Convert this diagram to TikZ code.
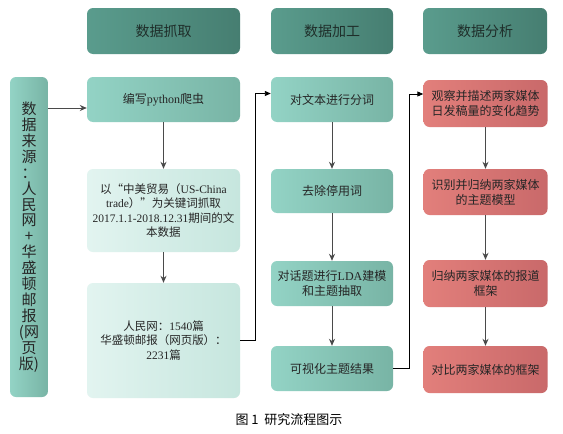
\documentclass[tikz,border=0pt]{standalone}
\usepackage{fontspec}
\setmainfont{Liberation Serif}
\newfontfamily\cjk{Noto Sans CJK SC}
\usetikzlibrary{arrows.meta}
\definecolor{hdA}{HTML}{5A9C8D}
\definecolor{hdB}{HTML}{467E71}
\definecolor{gA}{HTML}{93D3C5}
\definecolor{gB}{HTML}{78B4A5}
\definecolor{lA}{HTML}{E2F4F0}
\definecolor{lB}{HTML}{C6E6DE}
\definecolor{rA}{HTML}{E27F7B}
\definecolor{rB}{HTML}{C9696A}
\definecolor{txt}{HTML}{262626}
\definecolor{hdtxt}{HTML}{1F2E2A}
\definecolor{arr}{HTML}{4A4A4A}
\begin{document}
\begin{tikzpicture}[x=1pt,y=-1pt,
  base/.style={rounded corners=6pt, inner sep=0pt, align=center, text=txt,
    font=\cjk\fontsize{12}{15}\selectfont, shading angle=-45},
  hdbox/.style={base, left color=hdA, right color=hdB, text=hdtxt, font=\cjk\fontsize{14}{17}\selectfont},
  gbox/.style={base, left color=gA, right color=gB},
  lbox/.style={base, left color=lA, right color=lB},
  rbox/.style={base, left color=rA, right color=rB},
  flow/.style={draw=arr, line width=1pt, -{Stealth[length=7pt,width=6pt]}},
  link/.style={draw=black, line width=0.9pt, -{Triangle[length=6pt,width=5pt]}}
]
\useasboundingbox (0,0) rectangle (563,434);
\fill[white] (0,0) rectangle (563,434);

% headers
\node[hdbox, minimum width=153pt, minimum height=46pt] (h1) at (163.5,31) {数据抓取};
\node[hdbox, minimum width=122pt, minimum height=46pt] (h2) at (332,31) {数据加工};
\node[hdbox, minimum width=124pt, minimum height=46pt] (h3) at (485,31) {数据分析};

% source
\node[gbox, minimum width=38pt, minimum height=320pt, font=\cjk\fontsize{15}{15.9}\selectfont] (src) at (29,237)
  {数\\据\\来\\源\\：\\人\\民\\网\\+\\华\\盛\\顿\\邮\\报\\(网\\页\\版)};

% column 1
\node[gbox, minimum width=153pt, minimum height=45pt] (g1) at (163.5,99.5)
  {编写\textrm{python}爬虫};
\node[lbox, minimum width=153pt, minimum height=83pt, font=\cjk\fontsize{11.5}{14.5}\selectfont] (g2) at (163.5,210.5)
  {以“中美贸易（\textrm{US-China}\\\textrm{trade}）”为关键词抓取\\\textrm{2017.1.1-2018.12.31}期间的文\\本数据};
\node[lbox, minimum width=153pt, minimum height=115pt, font=\cjk\fontsize{11.5}{14.5}\selectfont] (g3) at (163.5,340.5)
  {人民网：\textrm{1540}篇\\华盛顿邮报（网页版）：\\\textrm{2231}篇};

% column 2
\node[gbox, minimum width=122pt, minimum height=45pt] (p1) at (332,99.5) {对文本进行分词};
\node[gbox, minimum width=122pt, minimum height=44pt] (p2) at (332,191) {去除停用词};
\node[gbox, minimum width=122pt, minimum height=45pt] (p3) at (332,283.5) {对话题进行\textrm{LDA}建模\\和主题抽取};
\node[gbox, minimum width=122pt, minimum height=45pt] (p4) at (332,368.5) {可视化主题结果};

% column 3
\node[rbox, minimum width=124pt, minimum height=47pt] (r1) at (485.5,103.5) {观察并描述两家媒体\\日发稿量的变化趋势};
\node[rbox, minimum width=124pt, minimum height=46pt] (r2) at (485.5,192) {识别并归纳两家媒体\\的主题模型};
\node[rbox, minimum width=124pt, minimum height=47pt] (r3) at (485.5,283.5) {归纳两家媒体的报道\\框架};
\node[rbox, minimum width=124pt, minimum height=47pt] (r4) at (485.5,369.5) {对比两家媒体的框架};

% caption
\node[font=\cjk\fontsize{13}{15}\selectfont, text=black] (cap) at (289,420) {图 1\ \ 研究流程图示};

% flows
\draw[flow] ([yshift=-8.5pt]src.east |- g1.west) -- ([yshift=-8.5pt]g1.west);
\draw[flow] (g1) -- (g2);
\draw[flow] (g2) -- (g3);
\draw[flow] (p1) -- (p2);
\draw[flow] (p2) -- (p3);
\draw[flow] (p3) -- (p4);
\draw[flow] (r1) -- (r2);
\draw[flow] (r2) -- (r3);
\draw[flow] (r3) -- (r4);

% links between columns
\coordinate (c1) at (255,93.5);
\coordinate (c2) at (409,94);
\draw[link] (g3.east) -| (c1) -- (c1 -| p1.west);
\draw[link] (p4.east) -| (c2) -- (c2 -| r1.west);
\end{tikzpicture}
\end{document}
